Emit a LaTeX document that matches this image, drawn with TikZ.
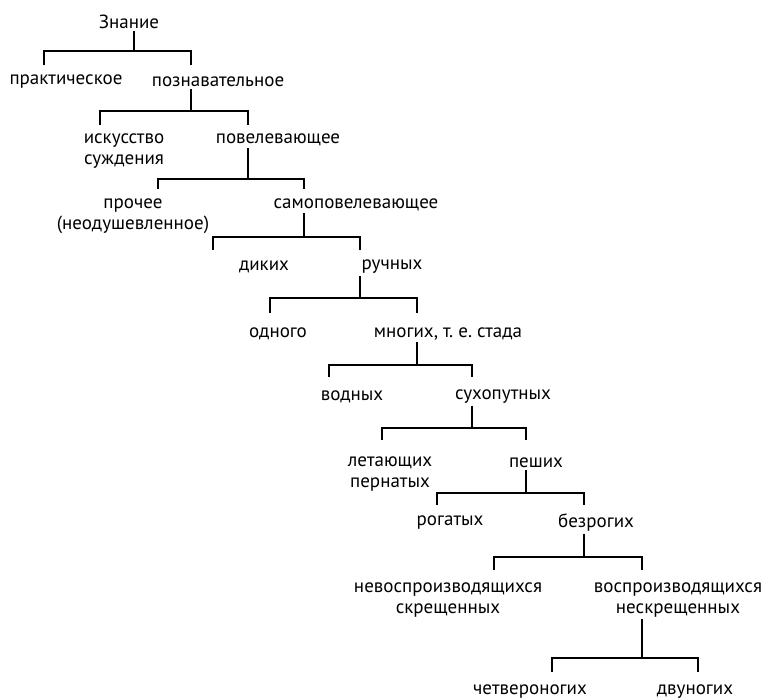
\documentclass[tikz,border=0pt]{standalone}
\usepackage{fontspec}
\setmainfont{PT Sans}
\usetikzlibrary{positioning}
\frenchspacing

\begin{document}
\begin{tikzpicture}[x=1pt,y=-1pt,
  every node/.style={font=\fontsize{19}{21}\selectfont, align=center, inner sep=2pt},
  branch/.style={line width=1.2pt}]

\useasboundingbox (0,0) rectangle (766,699);

% ------------------------
% Terms
% ------------------------
\node (znanie) at (129,22)  {Знание};
\node (prakt)  at (66,82)   {практическое};
\node (pozn)   at (218,82)  {познавательное};
\node (isk)    at (124,151) {искусство\\суждения};
\node (povel)  at (278,140) {повелевающее};
\node (proch)  at (133,216) {прочее\\(неодушевленное)};
\node (samo)   at (356,205) {самоповелевающее};
\node (dikie)  at (264,267) {диких};
\node (ruch)   at (392,267) {ручных};
\node (odin)   at (278,334) {одного};
\node (mnog)   at (448,334) {многих, т. е. стада};
\node (vodn)   at (352,397) {водных};
\node (sukh)   at (503,397) {сухопутных};
\node (let)    at (390,474) {летающих\\пернатых};
\node (pesh)   at (536,463) {пеших};
\node (rog)    at (450,523) {рогатых};
\node (bezrog) at (596,523) {безрогих};
\node (nevos)  at (448,600) {невоспроизводящихся\\скрещенных};
\node (vos)    at (678,600) {воспроизводящихся\\нескрещенных};
\node (chetv)  at (530,692) {четвероногих};
\node (dvu)    at (695,692) {двуногих};

% ------------------------
% Fork points (under each divided term)
% ------------------------
\coordinate (f-znanie) at (134,51);
\coordinate (f-pozn)   at (191,111);
\coordinate (f-povel)  at (248,179);
\coordinate (f-samo)   at (304,237);
\coordinate (f-ruch)   at (360,298);
\coordinate (f-mnog)   at (417,365);
\coordinate (f-sukh)   at (472,428);
\coordinate (f-pesh)   at (526,493);
\coordinate (f-bezrog) at (584,557);
\coordinate (f-vos)    at (642,658);

% Ends of the drops (above each part)
\coordinate (in-prakt) at (44,65);
\coordinate (in-pozn)  at (191,65);
\coordinate (in-isk)   at (100,125);
\coordinate (in-povel) at (248,125);
\coordinate (in-proch) at (158,189);
\coordinate (in-samo)  at (304,189);
\coordinate (in-dikie) at (213,250);
\coordinate (in-ruch)  at (360,250);
\coordinate (in-odin)  at (270,313);
\coordinate (in-mnog)  at (417,313);
\coordinate (in-vodn)  at (329,377);
\coordinate (in-sukh)  at (472,377);
\coordinate (in-let)   at (382,440);
\coordinate (in-pesh)  at (526,440);
\coordinate (in-rog)   at (437,505);
\coordinate (in-bezrog) at (584,505);
\coordinate (in-nevos) at (494,570);
\coordinate (in-vos)   at (642,570);
\coordinate (in-chetv) at (552,672);
\coordinate (in-dvu)   at (698,672);

% ------------------------
% Dichotomies
% ------------------------
\foreach \p/\a/\b in {znanie/prakt/pozn, pozn/isk/povel, povel/proch/samo,
    samo/dikie/ruch, ruch/odin/mnog, mnog/vodn/sukh, sukh/let/pesh,
    pesh/rog/bezrog, bezrog/nevos/vos, vos/chetv/dvu} {
  \draw[branch] (\p.south -| f-\p) -- (f-\p)
    (in-\a) |- (f-\p) -| (in-\b);
}

\end{tikzpicture}
\end{document}
